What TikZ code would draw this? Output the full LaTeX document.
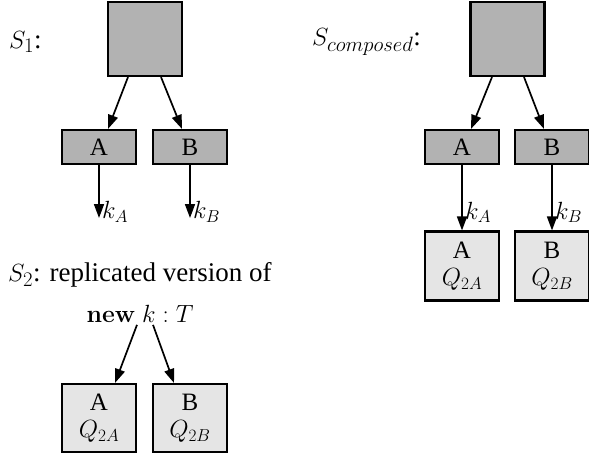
\documentclass[tikz,border=0pt]{standalone}
\usepackage[no-math]{fontspec}
\setmainfont{Liberation Serif}
\DeclareMathSizes{27}{27}{21}{16}
\DeclareMathSizes{25}{25}{19}{15}
\usetikzlibrary{calc,arrows.meta}
\begin{document}
\begin{tikzpicture}[x=1pt,y=-1pt,
  every node/.style={font=\fontsize{25}{27}\selectfont},
  big/.style={font=\fontsize{27}{29}\selectfont},
  dark/.style={draw, line width=2.1pt, fill=black!30, inner sep=0pt},
  bigbox/.style={dark, minimum width=74pt, minimum height=74pt},
  smallbox/.style={dark, minimum width=74pt, minimum height=34pt},
  lightbox/.style={draw, line width=2.1pt, fill=black!10, inner sep=0pt, minimum width=74pt, minimum height=69pt, align=center},
  arr/.style={line width=1.7pt, -{Triangle[length=14pt,width=10pt]}},
  lbl/.style={inner sep=0pt}]
\useasboundingbox (0,0) rectangle (589,460);
% S1
\node[lbl, big, anchor=west] (s1lbl) at (9,42) {$S_1$:};
\node[bigbox] (t1) at (145,39) {};
\node[smallbox] (a1) at (99,147) {A};
\node[smallbox] (b1) at (190,147) {B};
\draw[arr] ($(t1.south)+(-17,0)$) -- ($(a1.north)+(9,0)$);
\draw[arr] ($(t1.south)+(16,0)$) -- ($(b1.north)+(-8,0)$);
\coordinate (ka) at (99,218);
\coordinate (kb) at (190,218);
\draw[arr] (a1.south) -- (ka);
\draw[arr] (b1.south) -- (kb);
\node[lbl, anchor=west] (kal) at ($(ka)+(3,-6)$) {$k_A$};
\node[lbl, anchor=west] (kbl) at ($(kb)+(3,-6)$) {$k_B$};
% S composed
\node[lbl, big, anchor=west] (sclbl) at (312,42) {$S_{composed}$:};
\node[bigbox] (t2) at (507.5,39) {};
\node[smallbox] (a2) at (462,147) {A};
\node[smallbox] (b2) at (552,147) {B};
\draw[arr] ($(t2.south)+(-15.5,0)$) -- ($(a2.north)+(9,0)$);
\draw[arr] ($(t2.south)+(16.5,0)$) -- ($(b2.north)+(-8,0)$);
\node[lightbox] (qa2) at (462,266) {A\\$Q_{2A}$};
\node[lightbox] (qb2) at (552,266) {B\\$Q_{2B}$};
\draw[arr] (a2.south) -- (qa2.north);
\draw[arr] (b2.south) -- (qb2.north);
\node[lbl, anchor=west] (kal2) at ($(qa2.north)+(3,-18)$) {$k_A$};
\node[lbl, anchor=west] (kbl2) at ($(qb2.north)+(3,-18)$) {$k_B$};
% S2
\node[lbl, big, anchor=west] (s2lbl) at (8,275) {$S_2$: replicated version of};
\node[lbl, big] (newk) at (140,314) {$\mathbf{new}\ k:T$};
\node[lightbox, minimum height=68pt] (qa3) at (99,418) {A\\$Q_{2A}$};
\node[lightbox, minimum height=68pt] (qb3) at (190,418) {B\\$Q_{2B}$};
\draw[arr] ($(newk.south)+(-3,2)$) -- ($(qa3.north)+(16,0)$);
\draw[arr] ($(newk.south)+(13,2)$) -- ($(qb3.north)+(-16,0)$);
\end{tikzpicture}
\end{document}
